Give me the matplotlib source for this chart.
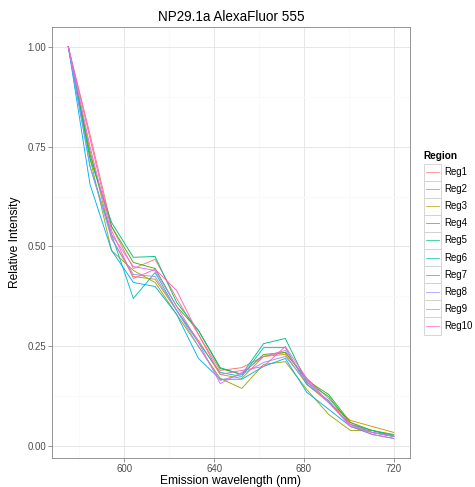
import numpy as np
import matplotlib
matplotlib.use("Agg")
import matplotlib.pyplot as plt
from matplotlib.patches import Rectangle
from matplotlib.lines import Line2D

plt.rcParams['font.family'] = ['Liberation Sans', 'DejaVu Sans']

# emission wavelengths (nm)
wavelength = [575, 584.7, 594.3, 604, 613.7, 623.3, 633, 642.7,
              652.3, 662, 671.7, 681.3, 691, 700.7, 710.3, 720]

regions = ['Reg1', 'Reg2', 'Reg3', 'Reg4', 'Reg5',
           'Reg6', 'Reg7', 'Reg8', 'Reg9', 'Reg10']
colors = ['#F8766D', '#D89000', '#A3A500', '#39B600', '#00BF7D',
          '#00BFC4', '#00B0F6', '#9590FF', '#E76BF3', '#FF62BC']

reg1 = [1.0, 0.78, 0.55, 0.445, 0.468, 0.37, 0.28, 0.19, 0.197, 0.225, 0.235, 0.17, 0.12, 0.06, 0.035, 0.025]
reg2 = [1.0, 0.74, 0.52, 0.425, 0.418, 0.34, 0.265, 0.18, 0.17, 0.225, 0.23, 0.155, 0.11, 0.065, 0.05, 0.035]
reg3 = [1.0, 0.72, 0.49, 0.44, 0.41, 0.33, 0.25, 0.17, 0.145, 0.205, 0.212, 0.142, 0.08, 0.04, 0.04, 0.03]
reg4 = [1.0, 0.73, 0.55, 0.46, 0.445, 0.35, 0.29, 0.195, 0.18, 0.23, 0.235, 0.165, 0.13, 0.06, 0.04, 0.025]
reg5 = [1.0, 0.72, 0.56, 0.473, 0.475, 0.36, 0.29, 0.197, 0.18, 0.257, 0.27, 0.16, 0.125, 0.055, 0.04, 0.028]
reg6 = [1.0, 0.70, 0.53, 0.37, 0.435, 0.34, 0.26, 0.185, 0.175, 0.247, 0.247, 0.155, 0.115, 0.05, 0.035, 0.025]
reg7 = [1.0, 0.655, 0.49, 0.41, 0.40, 0.33, 0.22, 0.168, 0.168, 0.20, 0.22, 0.135, 0.093, 0.05, 0.03, 0.02]
reg8 = [1.0, 0.70, 0.52, 0.43, 0.425, 0.34, 0.25, 0.165, 0.18, 0.21, 0.225, 0.16, 0.11, 0.055, 0.035, 0.025]
reg9 = [1.0, 0.75, 0.53, 0.45, 0.44, 0.35, 0.26, 0.157, 0.185, 0.225, 0.24, 0.165, 0.11, 0.05, 0.035, 0.025]
reg10 = [1.0, 0.77, 0.54, 0.42, 0.443, 0.39, 0.28, 0.18, 0.19, 0.20, 0.25, 0.17, 0.11, 0.055, 0.03, 0.02]
series = [reg1, reg2, reg3, reg4, reg5, reg6, reg7, reg8, reg9, reg10]

W, H = 475, 487
fig = plt.figure(figsize=(W / 72, H / 72), dpi=72)
# panel placed in pixel terms
pl, pr, pt, pb = 52, 410, 27, 458
ax = fig.add_axes([pl / W, 1 - pb / H, (pr - pl) / W, (pb - pt) / H])

for s, c in zip(series, colors):
    ax.plot(wavelength, s, color=c, lw=0.9, zorder=3)

xmin, xmax = min(wavelength), max(wavelength)
ymin = min(min(s) for s in series)
ymax = max(max(s) for s in series)
xp = 0.05 * (xmax - xmin)
yp = 0.05 * (ymax - ymin)
ax.set_xlim(xmin - xp, xmax + xp)
ax.set_ylim(ymin - yp, ymax + yp)

ax.set_xticks([600, 640, 680, 720])
ax.set_xticks([580, 620, 660, 700], minor=True)
ax.set_yticks([0, 0.25, 0.5, 0.75, 1.0])
ax.set_yticks([0.125, 0.375, 0.625, 0.875], minor=True)
ax.set_yticklabels(['0.00', '0.25', '0.50', '0.75', '1.00'])

ax.grid(which='major', color='#E5E5E5', lw=0.9, zorder=0)
ax.grid(which='minor', color='#FAFAFA', lw=1.2, zorder=0)
ax.set_axisbelow(True)
for sp in ax.spines.values():
    sp.set_color('#7F7F7F')
    sp.set_linewidth(0.8)
ax.tick_params(which='major', length=4, width=0.8, color='#7F7F7F',
               labelcolor='#4D4D4D', labelsize=9.6, pad=2)
ax.tick_params(which='minor', length=0)

ax.set_xlabel('Emission wavelength (nm)', fontsize=12, labelpad=1)
ax.set_ylabel('Relative Intensity', fontsize=12, labelpad=6)
ax.set_title('NP29.1a AlexaFluor 555', fontsize=13.5, pad=6)

# legend drawn in pixel positions
def fx(x):
    return x / W

def fy(y):
    return 1 - y / H

fig.text(fx(423), fy(156), 'Region', fontsize=10, fontweight='bold',
         va='center', ha='left')
key_w, key_h, top = 17, 17.1, 163.5
for i, (name, c) in enumerate(zip(regions, colors)):
    y0 = top + i * key_h
    fig.add_artist(Rectangle((fx(423.5), fy(y0 + key_h)), key_w / W, key_h / H,
                             transform=fig.transFigure, facecolor='white',
                             edgecolor='#CCCCCC', lw=0.8))
    yc = y0 + key_h / 2
    fig.add_artist(Line2D([fx(425.5), fx(438.5)], [fy(yc), fy(yc)],
                          transform=fig.transFigure, color=c, lw=0.9, alpha=0.75))
    fig.text(fx(444), fy(yc), name, fontsize=9.6, va='center', ha='left')

fig.savefig('out.png', dpi=72)
